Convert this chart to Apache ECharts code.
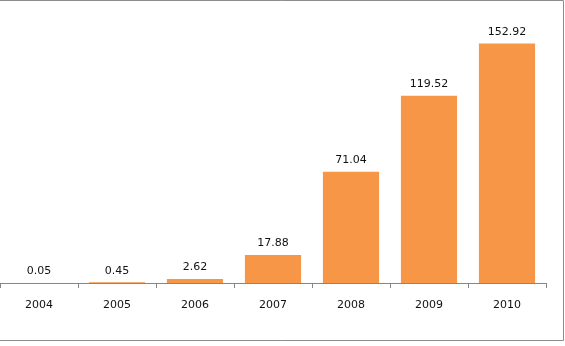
<!DOCTYPE html>
<html>
<head>
<meta charset="utf-8">
<style>
  html, body { margin: 0; padding: 0; background: #fff; }
  #chart { width: 565px; height: 346px; }
</style>
<script src="https://cdn.jsdelivr.net/npm/echarts@6/dist/echarts.min.js"></script>
</head>
<body>
<div id="chart"></div>
<script>
// Yearly totals, 2004–2010
const years = ['2004', '2005', '2006', '2007', '2008', '2009', '2010'];
const values = [0.05, 0.45, 2.62, 17.88, 71.04, 119.52, 152.92];

const chart = echarts.init(document.getElementById('chart'), null, { renderer: 'canvas' });
const font = 'Tahoma, "DejaVu Sans", Verdana, sans-serif';

chart.setOption({
  animation: false,
  backgroundColor: '#ffffff',
  grid: { left: 0, right: 19, top: 1, bottom: 63, containLabel: false },
  xAxis: {
    type: 'category',
    data: years,
    boundaryGap: true,
    axisLine: { show: true, lineStyle: { color: '#868686', width: 1 } },
    axisTick: { show: true, alignWithLabel: false, length: 5, lineStyle: { color: '#868686' } },
    axisLabel: { color: '#111', fontFamily: font, fontSize: 11, margin: 17 }
  },
  yAxis: {
    type: 'value',
    min: 0,
    max: 180,
    show: false,
    splitLine: { show: false }
  },
  series: [{
    type: 'bar',
    data: values,
    barWidth: '72%',
    itemStyle: { color: '#F79646' },
    label: {
      show: true,
      position: 'top',
      distance: 6,
      color: '#111',
      fontFamily: font,
      fontSize: 11,
      formatter: p => p.value.toFixed(2)
    }
  }],
  graphic: [{
    type: 'polyline',
    silent: true,
    shape: { points: [[-1, 0.5], [563.5, 0.5], [563.5, 340.5], [-1, 340.5]] },
    style: { stroke: '#8c8c8c', lineWidth: 1, fill: null }
  }]
});
</script>
</body>
</html>
